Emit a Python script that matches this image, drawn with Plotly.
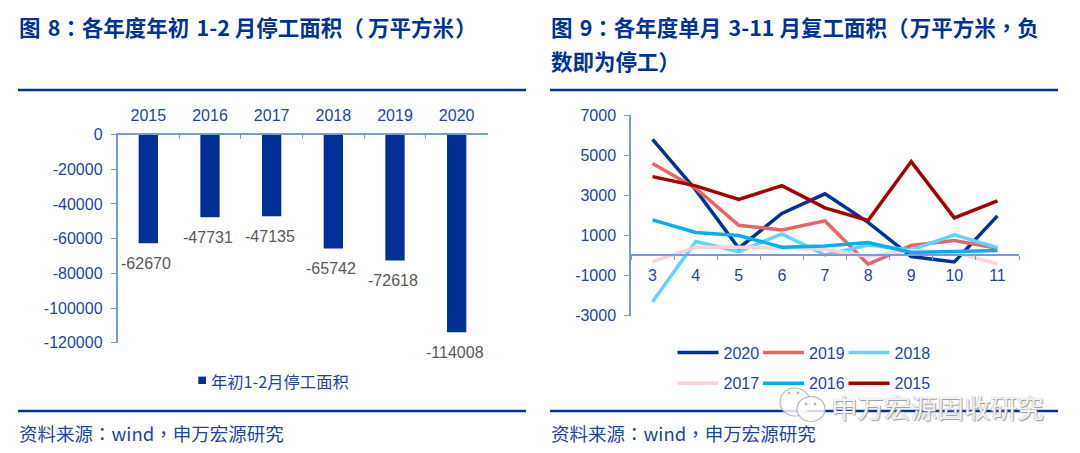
import plotly.graph_objects as go

W, H = 1080, 453
years = ["2015", "2016", "2017", "2018", "2019", "2020"]
stoppage = [-62670, -47731, -47135, -65742, -72618, -114008]
left_ticks = [0, -20000, -40000, -60000, -80000, -100000, -120000]
months = ["3", "4", "5", "6", "7", "8", "9", "10", "11"]
right_ticks = [7000, 5000, 3000, 1000, -1000, -3000]
s2020 = [5800, 3280, 370, 2100, 3080, 1660, -50, -320, 1980]
s2019 = [4590, 3360, 1510, 1280, 1730, -430, 500, 750, 370]
s2018 = [-2300, 700, 200, 1080, 30, 530, 280, 1030, 400]
s2017 = [-300, 420, 420, 370, 320, -50, 250, 170, -420]
s2016 = [1780, 1150, 1000, 420, 480, 650, 150, 220, 250]
s2015 = [3940, 3480, 2800, 3490, 2380, 1750, 4690, 1880, 2730]

title_left = "图\u20048：各年度年初\u20041-2 月停工面积（\u2009万平方米\u200a）"
title_right_1 = "图\u20049：各年度单月\u20043-11 月复工面积（\u200a万平方米，负"
title_right_2 = "数即为停工）"
legend_left = "年初1-2月停工面积"
source = "资料来源：wind，申万宏源研究"
watermark = "申万宏源固收研究"

NAVY = "#003399"
TXT = "#1f45a3"
AXIS = "#7a9ade"
GREY = "#595959"
CJK = "Noto Sans CJK TC"
LAT = "Liberation Sans"
FS = 16

def px(x): return x / W
def py(y): return 1 - y / H

fig = go.Figure()
fig.add_trace(go.Bar(x=years, y=stoppage, name=legend_left, marker_color="#002f96",
                     width=0.313, xaxis="x", yaxis="y", showlegend=False))

series = [("2020", s2020, "#003399"), ("2019", s2019, "#e96464"), ("2018", s2018, "#5fd4ff"),
          ("2017", s2017, "#fbd3d3"), ("2016", s2016, "#00b0f0"), ("2015", s2015, "#a50000")]
legend_ids = ["legend", "legend2", "legend3", "legend4", "legend5", "legend6"]
for (name, vals, col), leg in zip(series, legend_ids):
    fig.add_trace(go.Scatter(x=months, y=vals, name=name, mode="lines", xaxis="x2", yaxis="y2",
                             line=dict(color=col, width=3.5), legend=leg))

annos = []
for i, v in enumerate(stoppage):
    annos.append(dict(x=i, y=v, xref="x", yref="y", text=str(v), showarrow=False, yshift=-20, xshift=-2,
                      font=dict(family=LAT, size=FS, color=GREY), xanchor="center", yanchor="middle"))
for x0, y0, txt, size, weight in [(18, 27, title_left, 21.5, "bold"), (550, 27, title_right_1, 21.5, "bold"),
                                  (550, 60, title_right_2, 21.5, "bold"),
                                  (18, 432.5, source, 18.5, "normal"), (550, 432.5, source, 18.5, "normal"),
                                  (210, 381, legend_left, 16.3, "normal")]:
    annos.append(dict(x=px(x0), y=py(y0), xref="paper", yref="paper", text=txt, showarrow=False,
                      xanchor="left", yanchor="middle", align="left", xshift=-1,
                      font=dict(family=CJK, size=size, color=NAVY if weight == "bold" else TXT, weight=weight)))
annos.append(dict(x=px(829), y=py(406.5), xref="paper", yref="paper", text=watermark, showarrow=False,
                  xanchor="left", yanchor="middle",
                  font=dict(family=CJK, size=26.6, color="#f2f2f2",
                            shadow="1px 1px 1px #999, -0.5px 0 1px #bbb")))

shapes = []
for x0, x1 in [(18, 526), (550, 1058)]:
    for y in (90, 411):
        shapes.append(dict(type="line", xref="paper", yref="paper", x0=px(x0), x1=px(x1), y0=py(y), y1=py(y),
                           line=dict(color=NAVY, width=2.5)))
# left legend swatch
shapes.append(dict(type="rect", xref="paper", yref="paper", x0=px(198.3), x1=px(206), y0=py(384), y1=py(376.6),
                   fillcolor="#002f96", line=dict(width=0)))
# WeChat-style watermark icon
ICON = "#b5b5b5"
for cx, cy, rx, ry in [(795, 402, 15, 14), (811, 409, 14, 12.5)]:
    shapes.append(dict(type="circle", xref="paper", yref="paper", x0=px(cx - rx), x1=px(cx + rx),
                       y0=py(cy - ry), y1=py(cy + ry), fillcolor="rgba(255,255,255,0.82)",
                       line=dict(color=ICON, width=1.2)))
for cx, cy in [(789, 393), (798, 393), (806, 404), (815, 404)]:
    shapes.append(dict(type="circle", xref="paper", yref="paper", x0=px(cx - 1.4), x1=px(cx + 1.4),
                       y0=py(cy - 1.4), y1=py(cy + 1.4), fillcolor=ICON, line=dict(width=0)))

tick = dict(family=LAT, size=FS, color=TXT)
common = dict(automargin=False, showgrid=False, zeroline=False, showline=True, linecolor=AXIS, linewidth=1.5,
              tickcolor=AXIS, tickfont=tick, tickangle=0)
leg_common = dict(xanchor="left", yanchor="middle", orientation="h", itemwidth=41,
                  font=dict(family=LAT, size=FS, color=TXT), bgcolor="rgba(0,0,0,0)")
legend_x = [672.5, 758, 843.5, 672.5, 758, 843.5]
legend_y = [352.5, 352.5, 352.5, 383.3, 383.3, 383.3]
legend_layout = {lid: dict(x=px(lx), y=py(ly), **leg_common) for lid, lx, ly in zip(legend_ids, legend_x, legend_y)}

fig.update_layout(
    template="none",
    width=W, height=H, margin=dict(l=0, r=0, t=0, b=0), autosize=False,
    paper_bgcolor="white", plot_bgcolor="white", bargap=0.7,
    annotations=annos, shapes=shapes,
    xaxis=dict(domain=[px(117.5), px(487.5)], type="category", side="top", anchor="y", range=[-0.5, 5.5],
               ticks="inside", ticklen=5, tickson="boundaries", ticklabelstandoff=5, **common),
    yaxis=dict(domain=[py(342.7), py(134.5)], range=[-120000, 0], tickmode="array", tickvals=left_ticks,
               ticktext=[str(t) for t in left_ticks], ticks="outside", ticklen=5, anchor="x",
               ticklabelstandoff=5, **common),
    xaxis2=dict(domain=[px(631), px(1019)], type="category", anchor="free", position=py(255), range=[-0.5, 8.5],
                ticks="outside", ticklen=4, tickson="boundaries", ticklabelstandoff=6, **common),
    yaxis2=dict(domain=[py(315.7), py(115.3)], range=[-3000, 7000], tickmode="array", tickvals=right_ticks,
                ticktext=[str(t) for t in right_ticks], ticks="outside", ticklen=5, anchor="x2",
                ticklabelstandoff=5, **common),
    **legend_layout,
)
fig.write_html("out.html", config={"displayModeBar": False},
               post_script="document.body.style.margin='0';document.documentElement.style.overflow='hidden';")
